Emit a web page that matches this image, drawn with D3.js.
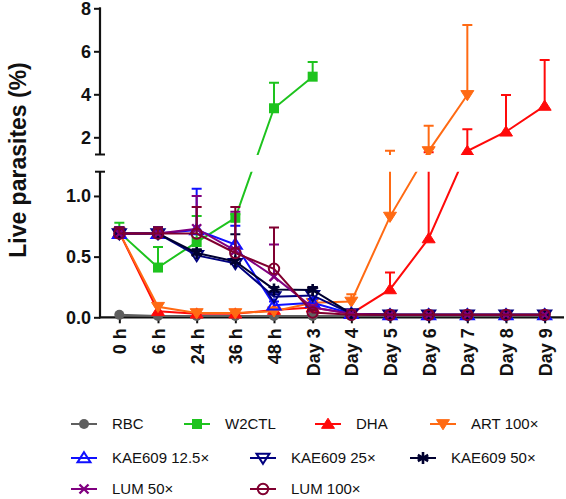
<!DOCTYPE html>
<html><head><meta charset="utf-8">
<script src="https://cdn.jsdelivr.net/npm/d3@7"></script>
<style>body{margin:0;background:#fff}svg{display:block}text{font-family:"Liberation Sans",Arial,sans-serif}</style>
</head><body><svg id="c" width="566" height="499"></svg>
<script>
// ---- data ----
const categories = ["0 h","6 h","24 h","36 h","48 h","Day 3","Day 4","Day 5","Day 6","Day 7","Day 8","Day 9"];
const seriesNames = ["RBC","W2CTL","DHA","ART 100×","KAE609 12.5×","KAE609 25×","KAE609 50×","LUM 50×","LUM 100×"];
const rbc      = [0.02,0.01,0.01,0.01,0.01,0.01,0.01,0.01,0.01,0.01,0.01,0.01];
const w2ctl    = [0.70,0.41,0.62,0.82,3.35,4.82,null,null,null,null,null,null];
const w2ctlErr = [0.78,0.58,0.835,0.85,4.54,5.50,null,null,null,null,null,null];
const dha      = [0.70,0.05,0.03,0.03,0.06,0.08,0.03,0.23,0.65,1.36,2.26,3.46];
const dhaErr   = [null,null,null,null,null,null,null,0.37,1.30,2.37,3.97,5.60];
const art      = [0.70,0.087,0.035,0.035,0.05,0.12,0.13,0.83,1.36,3.97,null,null];
const artErr   = [null,null,null,null,null,0.25,0.19,1.38,2.54,7.22,null,null];
const kae125   = [0.69,0.69,0.72,0.60,0.10,0.12,0.03,0.02,0.02,0.02,0.02,0.02];
const kae125Err= [0.74,0.74,1.06,0.755,0.13,0.15,null,null,null,null,null,null];
const kae25    = [0.69,0.69,0.51,0.445,0.17,0.18,0.03,0.02,0.02,0.02,0.02,0.02];
const kae25Err = [0.74,0.74,0.55,0.48,0.19,0.24,null,null,null,null,null,null];
const kae50    = [0.69,0.69,0.53,0.46,0.23,0.225,0.03,0.02,0.02,0.02,0.02,0.02];
const kae50Err = [0.74,0.74,0.56,0.684,0.25,0.25,null,null,null,null,null,null];
const lum50    = [0.69,0.69,0.73,0.55,0.335,0.08,0.03,0.02,0.02,0.02,0.02,0.02];
const lum50Err = [0.74,0.74,1.00,0.87,0.60,0.10,null,null,null,null,null,null];
const lum100   = [0.69,0.69,0.69,0.53,0.40,0.04,0.02,0.02,0.02,0.02,0.02,0.02];
const lum100Err= [0.74,0.74,0.91,0.91,0.74,0.06,null,null,null,null,null,null];
const yTicksTop = [2,4,6,8];
const yTicksBottom = [0,0.5,1.0];

// ---- styles ----
const series = [
  {values:rbc,    err:null,      color:"#5f5f5f", sym:"circle", fill:true},
  {values:w2ctl,  err:w2ctlErr,  color:"#1ec31e", sym:"square", fill:true},
  {values:dha,    err:dhaErr,    color:"#ff0a0a", sym:"triUp",  fill:true},
  {values:art,    err:artErr,    color:"#ff6a13", sym:"triDown",fill:true},
  {values:kae125, err:kae125Err, color:"#1010ff", sym:"triUp",  fill:false},
  {values:kae25,  err:kae25Err,  color:"#00007f", sym:"triDown",fill:false},
  {values:kae50,  err:kae50Err,  color:"#000030", sym:"star",   fill:true},
  {values:lum50,  err:lum50Err,  color:"#800080", sym:"x",      fill:true},
  {values:lum100, err:lum100Err, color:"#800030", sym:"circle", fill:false}
].map((s,i)=>Object.assign(s,{name:seriesNames[i]}));

const svg = d3.select("#c");
const x = d3.scalePoint().domain(categories).range([100,564]).padding(0.5);
const BRK = 1.2;
const yBot = d3.scaleLinear().domain([0,BRK]).range([317.3,171.7]);
const yTop = d3.scaleLinear().domain([BRK,8]).range([154.5,8.3]);
const y = v => v <= BRK ? yBot(v) : yTop(v);

// clip: union of two panels
const defs = svg.append("defs");
const cp = defs.append("clipPath").attr("id","panels");
cp.append("rect").attr("x",90).attr("y",0).attr("width",476).attr("height",155);
cp.append("rect").attr("x",90).attr("y",171.7).attr("width",476).attr("height",170);

// axes
const axisCol = "#111";
function yAxis(scale, ticks, fmt, y0, y1, capAt){
  const g = svg.append("g").attr("transform","translate(100,0)");
  g.call(d3.axisLeft(scale).tickValues(ticks).tickFormat(fmt).tickSize(6).tickSizeOuter(0));
  g.select(".domain").remove();
  g.selectAll(".tick line").attr("stroke",axisCol).attr("stroke-width",2);
  g.selectAll(".tick text").attr("x",-9).attr("font-size",18).attr("font-weight","bold").attr("fill","#111");
  g.append("line").attr("x1",0).attr("x2",0).attr("y1",y0).attr("y2",y1).attr("stroke",axisCol).attr("stroke-width",2.2);
  g.append("line").attr("x1",-5).attr("x2",5).attr("y1",capAt).attr("y2",capAt).attr("stroke",axisCol).attr("stroke-width",2);
}
yAxis(yTop, yTicksTop, d3.format("d"), yTop(8)-1, yTop(BRK), yTop(BRK));
yAxis(yBot, yTicksBottom, d3.format(".1f"), yBot(BRK), yBot(0)+1, yBot(BRK));

const gx = svg.append("g").attr("transform",`translate(0,${yBot(0)})`);
gx.call(d3.axisBottom(x).tickSize(6).tickSizeOuter(0));
gx.select(".domain").attr("d",`M99,0H564`).attr("stroke",axisCol).attr("stroke-width",2.2);
gx.selectAll(".tick line").attr("stroke",axisCol).attr("stroke-width",2);
gx.selectAll(".tick text").attr("transform","rotate(-90)").attr("x",-11).attr("y",0).attr("dy","0.36em")
  .attr("text-anchor","end").attr("font-size",18).attr("font-weight","bold").attr("fill","#111");

// y label
svg.append("text").attr("transform","translate(26,160) rotate(-90)").attr("text-anchor","middle")
  .attr("font-size",23).attr("font-weight","bold").attr("fill","#111").text("Live parasites (%)");

// markers
function marker(g, sym, color, fill, cx, cy){
  if(sym==="circle"){
    g.append("circle").attr("cx",cx).attr("cy",cy).attr("r",fill?5:5.2)
      .attr("fill",fill?color:"none").attr("stroke",color).attr("stroke-width",fill?0:2);
  } else if(sym==="square"){
    g.append("rect").attr("x",cx-5).attr("y",cy-5).attr("width",10).attr("height",10).attr("fill",color);
  } else if(sym==="triUp"||sym==="triDown"){
    const s = sym==="triUp"?1:-1, h=5.8, w=6.5;
    const p = `M${cx},${cy-s*h}L${cx+w},${cy+s*h*0.75}L${cx-w},${cy+s*h*0.75}Z`;
    g.append("path").attr("d",p).attr("fill",fill?color:"none").attr("stroke",color)
      .attr("stroke-width",fill?1:2).attr("stroke-linejoin","miter");
  } else if(sym==="star"){
    const r=6;
    [90,30,150].forEach(a=>{
      const rad=a*Math.PI/180, dx=r*Math.cos(rad), dy=r*Math.sin(rad);
      g.append("line").attr("x1",cx-dx).attr("y1",cy-dy).attr("x2",cx+dx).attr("y2",cy+dy)
        .attr("stroke",color).attr("stroke-width",2.6);
    });
  } else if(sym==="x"){
    const r=4.5;
    g.append("path").attr("d",`M${cx-r},${cy-r}L${cx+r},${cy+r}M${cx-r},${cy+r}L${cx+r},${cy-r}`)
      .attr("stroke",color).attr("stroke-width",2.4).attr("fill","none");
  }
}

const plot = svg.append("g").attr("clip-path","url(#panels)");
const line = d3.line().defined(d=>d.v!=null).x(d=>x(d.c)).y(d=>y(d.v));
series.forEach(s=>{
  const g = plot.append("g");
  const pts = categories.map((c,i)=>({c, v:s.values[i], e:s.err?s.err[i]:null}));
  pts.filter(d=>d.v!=null && d.e!=null).forEach(d=>{
    const cx=x(d.c);
    g.append("line").attr("x1",cx).attr("x2",cx).attr("y1",y(d.v)).attr("y2",y(d.e)).attr("stroke",s.color).attr("stroke-width",2);
    g.append("line").attr("x1",cx-5).attr("x2",cx+5).attr("y1",y(d.e)).attr("y2",y(d.e)).attr("stroke",s.color).attr("stroke-width",2);
  });
  g.append("path").datum(pts).attr("d",line).attr("fill","none").attr("stroke",s.color).attr("stroke-width",2);
  pts.filter(d=>d.v!=null).forEach(d=>marker(g,s.sym,s.color,s.fill,x(d.c),y(d.v)));
});

// legend
const legendPos = [
  [84,424],[197,424],[328,424],[443,424],
  [84,458],[263,458],[423,458],
  [84,489],[263,489]
];
series.forEach((s,i)=>{
  const [lx,ly] = legendPos[i];
  const g = svg.append("g");
  g.append("line").attr("x1",lx-13).attr("x2",lx+13).attr("y1",ly).attr("y2",ly).attr("stroke",s.color).attr("stroke-width",2);
  marker(g,s.sym,s.color,s.fill,lx,ly);
  g.append("text").attr("x",lx+28).attr("y",ly).attr("dy","0.36em").attr("font-size",15).attr("fill","#111").text(s.name);
});
</script></body></html>
